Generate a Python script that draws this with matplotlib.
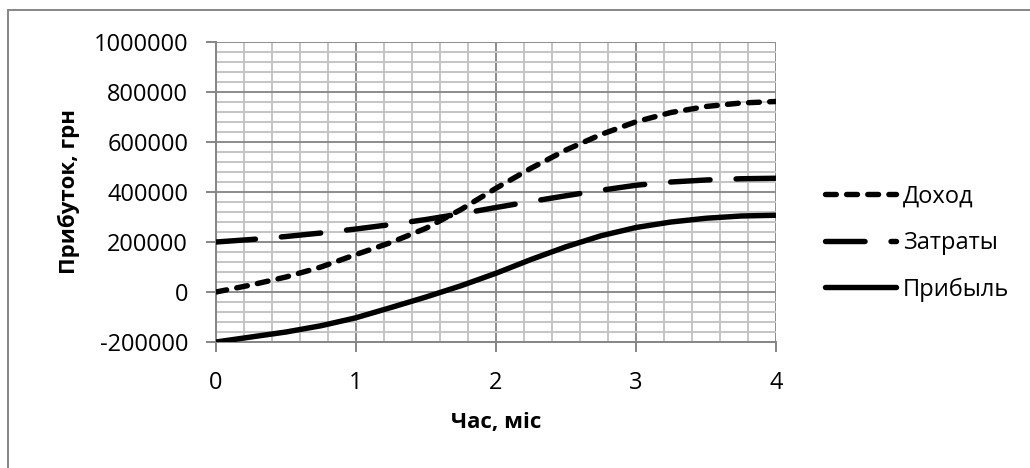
import numpy as np
import matplotlib.pyplot as plt
from matplotlib.patches import Rectangle
from matplotlib.ticker import MultipleLocator

plt.rcParams['font.family'] = ['Open Sans', 'DejaVu Sans']

# time, months
months = [0, 0.25, 0.5, 0.75, 1, 1.25, 1.5, 1.75, 2, 2.25, 2.5, 2.75, 3, 3.25, 3.5, 3.75, 4]

revenue = [0, 28000, 60000, 100000, 150000, 198000, 255000, 330000, 415000,
           495000, 568000, 630000, 681000, 718000, 742000, 756000, 762000]
costs = [200000, 210000, 222000, 236000, 252000, 270000, 290000, 313000, 338000,
         362000, 385000, 407000, 427000, 440000, 448000, 453000, 455000]
profit = [-200000, -180000, -160000, -135000, -103000, -62000, -20000, 25000, 75000,
          130000, 181000, 225000, 258000, 280000, 295000, 304000, 307000]

labels = ['Доход', 'Затраты', 'Прибыль']

fig = plt.figure(figsize=(10.3, 4.68), dpi=100)
ax = fig.add_axes([216 / 1030, 1 - 342 / 468, 560 / 1030, 300 / 468])

lw = 3.9
ax.plot(months, revenue, color='black', lw=lw, dashes=(2.0, 1.9),
        dash_capstyle='round', label=labels[0], zorder=3)
ax.plot(months, costs, color='black', lw=lw, dashes=(7.3, 4.8),
        dash_capstyle='round', label=labels[1], zorder=3)
ax.plot(months, profit, color='black', lw=lw, solid_capstyle='round',
        label=labels[2], zorder=3)

ax.set_xlim(0, 4)
ax.set_ylim(-200000, 1000000)
ax.xaxis.set_major_locator(MultipleLocator(1))
ax.xaxis.set_minor_locator(MultipleLocator(0.2))
ax.yaxis.set_major_locator(MultipleLocator(200000))
ax.yaxis.set_minor_locator(MultipleLocator(40000))
ax.yaxis.set_major_formatter(plt.FuncFormatter(lambda v, p: f"{v:.0f}"))

ax.grid(which='minor', color='#c4c4c4', lw=1.4)
ax.grid(which='major', color='#8c8c8c', lw=1.4)
ax.set_axisbelow(True)

for s in ['top', 'right']:
    ax.spines[s].set_visible(False)
for s in ['left', 'bottom']:
    ax.spines[s].set_color('#868686')
    ax.spines[s].set_linewidth(1.4)

ax.tick_params(which='major', length=7, width=1.4, color='#868686',
               labelsize=17, pad=13)
ax.tick_params(which='minor', length=0)
ax.tick_params(axis='x', pad=14)

ax.set_xlabel('Час, міс', fontsize=16, fontweight='bold', labelpad=12)
ax.set_ylabel('Прибуток, грн', fontsize=16, fontweight='bold', labelpad=10)

fig.legend(loc='center left', bbox_to_anchor=(825 / 1030, 1 - 243 / 468),
           frameon=False, fontsize=17, handlelength=3.0, handletextpad=0.3,
           labelspacing=0.95, borderaxespad=0, borderpad=0)

# outer chart frame
fig.patches.append(Rectangle((8 / 1030, -0.1), 1.2, 1.1 - 10 / 468,
                             transform=fig.transFigure, fill=False,
                             edgecolor='#868686', lw=1.4))

fig.savefig('out.png', dpi=100)
